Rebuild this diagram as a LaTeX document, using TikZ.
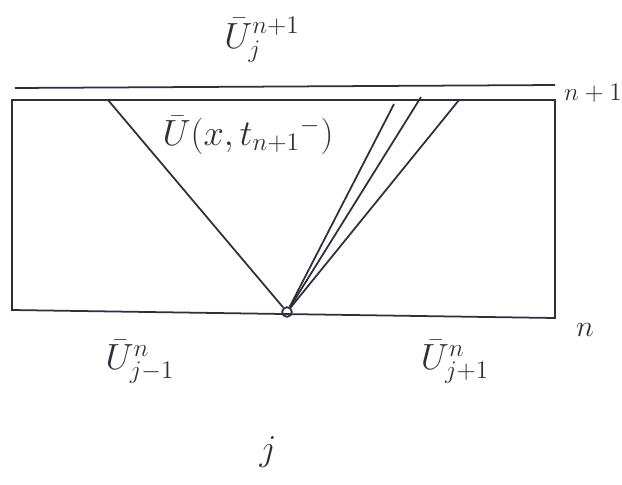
\documentclass[tikz,border=0pt]{standalone}
\usepackage{amsmath, amssymb}
\usepackage{xcolor}
\usetikzlibrary{calc, positioning}
\definecolor{pen}{RGB}{50,45,60}

\begin{document}
\begin{tikzpicture}[x=0.02cm, y=-0.02cm, line width=1pt, draw=pen,
    lbl/.style={text=pen, font=\huge}]
    \useasboundingbox (0,0) rectangle (622,484);
    % 1. Khung (hai mức thời gian)
    \draw (15,88) -- (555,85);
    \draw (12,100) -- (555,100) -- (555,318) -- (12,310) -- cycle;
    \node[lbl, font=\Large] (tn1) at (593,93) {$n+1$};
    \node[lbl, font=\LARGE] (tn) at (585,330) {$n$};
    
    % 2. Điểm j và các đặc trưng
    \node[circle, draw, inner sep=0pt, minimum size=5.5pt] (P) at (287,312) {};
    \coordinate (A) at (108,100);
    \coordinate (B) at (394,104);
    \coordinate (C) at (421,97);
    \coordinate (D) at (459,100);
    \draw (P) -- (A);
    \draw (P) -- (B);
    \draw (P) -- (C);
    \draw (P) -- (D);
    
    % 3. Nhãn
    \node[lbl] (Utop) at (262,40) {$\bar U^{n+1}_{j}$};
    \node[lbl] (Umid) at (248,135) {$\bar U(x,t_{n+1}{}^{-})$};
    \node[lbl] (Uleft) at (140,362) {$\bar U^{n}_{j-1}$};
    \node[lbl] (Uright) at (455,362) {$\bar U^{n}_{j+1}$};
    \node[lbl] (j) at (268,452) {$j$};
\end{tikzpicture}
\end{document}
